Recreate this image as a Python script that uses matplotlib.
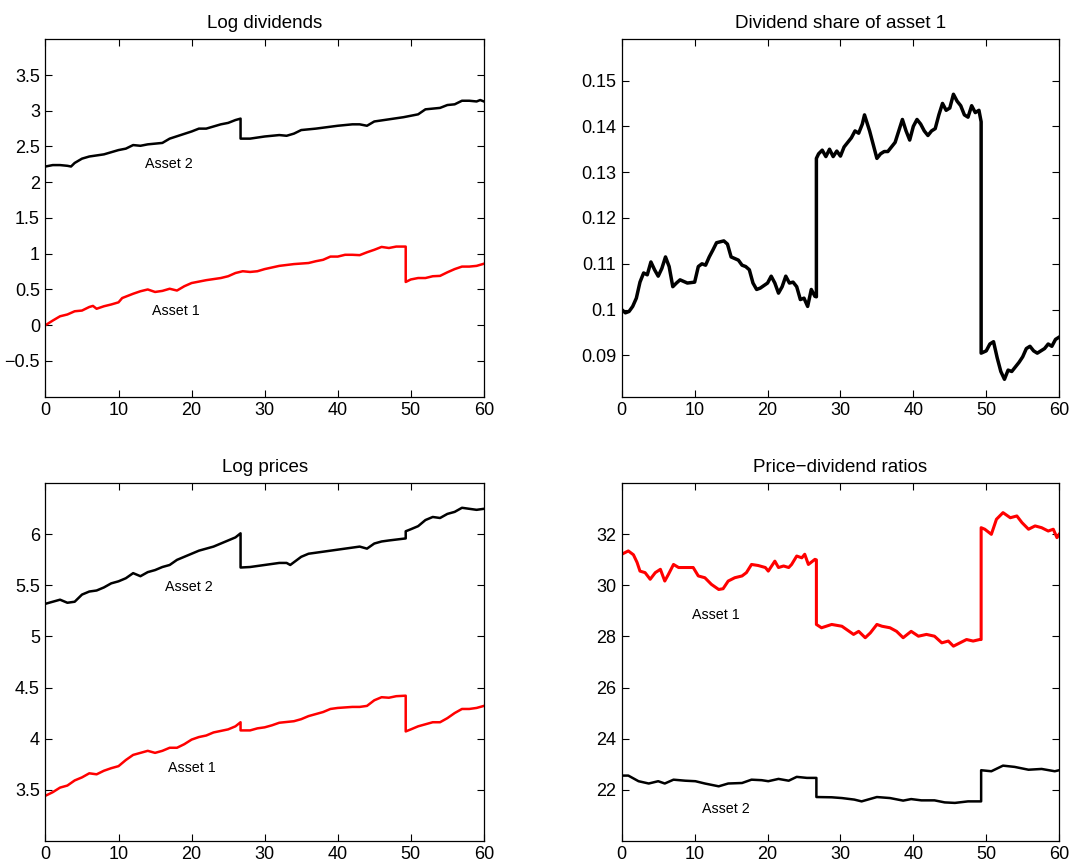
import numpy as np
import matplotlib
matplotlib.use('Agg')
import matplotlib.pyplot as plt
from matplotlib.ticker import FuncFormatter

plt.rcParams['font.family'] = ['Liberation Sans', 'DejaVu Sans']

# log dividends
div_t2 = [0, 1, 2, 3, 3.5, 4, 5, 6, 8, 10, 11, 12, 13, 14, 16, 17, 20, 21, 22, 24,
          25, 26, 26.7, 26.7, 28, 30, 32, 33, 34, 35, 37, 40, 42, 43, 44, 45, 47, 49, 50, 51,
          52, 54, 55, 56, 57, 58, 59, 59.5, 60]
div_a2 = [2.22, 2.24, 2.24, 2.23, 2.22, 2.27, 2.33, 2.36, 2.39, 2.45, 2.47, 2.52, 2.51, 2.53, 2.55, 2.61, 2.71, 2.75, 2.75, 2.81,
          2.83, 2.87, 2.89, 2.61, 2.61, 2.64, 2.66, 2.65, 2.68, 2.73, 2.75, 2.79, 2.81, 2.81, 2.79, 2.85, 2.88, 2.91, 2.93, 2.95,
          3.02, 3.04, 3.08, 3.09, 3.14, 3.14, 3.13, 3.15, 3.13]
div_t1 = [0, 1, 2, 3, 4, 5, 6, 6.5, 7, 8, 9, 10, 10.5, 12, 13, 14, 15, 16, 17, 18,
          19, 20, 22, 24, 25, 26, 27, 28, 29, 30, 32, 34, 36, 37, 38, 39, 40, 41, 42, 43,
          44, 45, 46, 47, 48, 49.3, 49.3, 50, 51, 52, 53, 54, 55, 56, 57, 58, 59, 60]
div_a1 = [0.0, 0.065, 0.125, 0.15, 0.195, 0.205, 0.255, 0.27, 0.23, 0.265, 0.29, 0.32, 0.38, 0.44, 0.475, 0.5, 0.465, 0.48, 0.51, 0.485,
          0.545, 0.59, 0.63, 0.66, 0.685, 0.73, 0.755, 0.745, 0.755, 0.785, 0.83, 0.855, 0.87, 0.895, 0.915, 0.96, 0.96, 0.985, 0.985, 0.98,
          1.02, 1.055, 1.095, 1.08, 1.1, 1.1, 0.605, 0.64, 0.66, 0.66, 0.685, 0.69, 0.74, 0.785, 0.82, 0.82, 0.83, 0.86]

# dividend share of asset 1
sh_t = [0, 0.5, 1, 1.5, 2, 2.5, 3, 3.5, 4, 4.5, 5, 5.5, 6, 6.5, 7, 7.5, 8, 9, 10, 10.5,
        11, 11.5, 12, 12.5, 13, 14, 14.5, 15, 16, 16.5, 17, 17.5, 18, 18.5, 19, 20, 20.5, 21, 21.5, 22,
        22.5, 23, 23.5, 24, 24.5, 25, 25.5, 26, 26.5, 26.7, 26.7, 27, 27.5, 28, 28.5, 29, 29.5, 30, 30.5, 31,
        31.5, 32, 32.5, 33, 33.3, 34, 34.5, 35, 35.5, 36, 36.5, 37, 37.5, 38, 38.5, 39, 39.5, 40, 40.5, 41,
        41.5, 42, 42.5, 43, 43.5, 44, 44.5, 45, 45.5, 46, 46.5, 47, 47.5, 48, 48.5, 49, 49.3, 49.3, 50, 50.5,
        51, 51.5, 52, 52.5, 53, 53.5, 54, 54.5, 55, 55.5, 56, 56.5, 57, 57.5, 58, 58.5, 59, 59.5, 60]
sh_val = [0.100, 0.0993, 0.0996, 0.1007, 0.1025, 0.106, 0.108, 0.1076, 0.1104, 0.1087, 0.1073, 0.109, 0.1115, 0.1094, 0.105, 0.1058, 0.1065, 0.1058, 0.106, 0.1094,
          0.110, 0.1097, 0.1115, 0.113, 0.1146, 0.115, 0.1143, 0.1115, 0.1108, 0.1097, 0.1094, 0.1087, 0.1058, 0.1044, 0.1047, 0.1058, 0.1073, 0.1058, 0.1036, 0.105,
          0.1073, 0.1058, 0.106, 0.105, 0.1022, 0.1025, 0.1007, 0.1044, 0.1029, 0.1028, 0.133, 0.134, 0.1348, 0.1334, 0.135, 0.1334, 0.1346, 0.1335, 0.1355, 0.1365,
          0.1375, 0.139, 0.1385, 0.1405, 0.1425, 0.139, 0.136, 0.133, 0.134, 0.1345, 0.1345, 0.1355, 0.1365, 0.139, 0.1415, 0.139, 0.137, 0.140, 0.1415, 0.1405,
          0.139, 0.138, 0.139, 0.1395, 0.1425, 0.145, 0.1435, 0.144, 0.147, 0.1455, 0.1445, 0.1425, 0.142, 0.1445, 0.143, 0.1435, 0.141, 0.0905, 0.091, 0.0925,
          0.093, 0.0895, 0.0865, 0.0848, 0.0868, 0.0865, 0.0875, 0.0885, 0.0897, 0.0915, 0.092, 0.091, 0.0905, 0.091, 0.0915, 0.0925, 0.092, 0.0935, 0.094]

# log prices
px_t2 = list(range(27)) + [26.7, 26.7, 28, 30, 32, 33, 33.5, 35, 36, 38, 40, 42,
                           43, 44, 45, 46, 47, 49.3, 49.3, 50, 51, 52, 53, 54, 55, 56, 57, 58, 59, 60]
px_a2 = [5.32, 5.34, 5.36, 5.33, 5.34, 5.41, 5.44, 5.45, 5.48, 5.52, 5.54, 5.57, 5.62, 5.59, 5.63, 5.65, 5.68, 5.70, 5.75, 5.78,
         5.81, 5.84, 5.86, 5.88, 5.91, 5.94, 5.97, 6.01, 5.675, 5.68, 5.70, 5.72, 5.72, 5.70, 5.78, 5.81, 5.83, 5.85, 5.87,
         5.88, 5.86, 5.91, 5.93, 5.94, 5.96, 6.03, 6.05, 6.08, 6.14, 6.17, 6.16, 6.20, 6.22, 6.26, 6.25, 6.24, 6.25]
px_t1 = list(range(27)) + [26.7, 26.7, 28, 29, 30, 31, 32, 34, 35, 36, 37, 38, 39, 40, 42, 43, 44, 45, 46, 47, 48,
                           49.3, 49.3, 50, 51, 52, 53, 54, 55, 56, 57, 58, 59, 60]
px_a1 = [3.44, 3.475, 3.52, 3.54, 3.59, 3.62, 3.66, 3.65, 3.685, 3.71, 3.73, 3.79, 3.84, 3.86, 3.88, 3.86, 3.88, 3.91, 3.91, 3.945,
         3.99, 4.015, 4.03, 4.06, 4.075, 4.09, 4.12, 4.16, 4.08, 4.08, 4.10, 4.11, 4.13, 4.155, 4.17, 4.19, 4.22, 4.24, 4.26, 4.29,
         4.30, 4.31, 4.31, 4.32, 4.375, 4.405, 4.40, 4.415, 4.42, 4.07, 4.09, 4.12, 4.14, 4.16, 4.16, 4.20, 4.25, 4.29, 4.29, 4.30, 4.32]

# price-dividend ratios
pd_t1 = [0, 0.9, 1.6, 2.1, 2.5, 3.2, 3.9, 4.6, 5.3, 5.9, 6.4, 7.1, 7.8, 8.7, 9.8, 10.5, 11.4, 12.3, 13.3, 13.9,
         14.6, 15.5, 16.5, 17.1, 17.8, 18.7, 19.7, 20.1, 21, 21.5, 22.2, 22.9, 23.3, 24, 24.7, 25.1, 25.6, 26.5, 26.7, 26.7,
         27.4, 28.8, 30.2, 31.8, 32.5, 33.4, 34.1, 35, 35.7, 36.8, 37.7, 38.6, 39.7, 40.7, 41.8, 42.9, 43.9, 44.8, 45.5, 46.4,
         47.3, 48.2, 49.1, 49.3, 49.3, 49.8, 50.7, 51.4, 52.3, 53.3, 54.2, 54.9, 55.8, 56.7, 57.6, 58.5, 59.2, 59.7, 60]
pd_a1 = [31.22, 31.35, 31.2, 30.9, 30.56, 30.5, 30.24, 30.5, 30.63, 30.17, 30.43, 30.82, 30.7, 30.7, 30.7, 30.37, 30.3, 30.04, 29.84, 29.87,
         30.17, 30.3, 30.37, 30.5, 30.82, 30.78, 30.7, 30.56, 30.95, 30.7, 30.76, 30.7, 30.82, 31.15, 31.08, 31.22, 30.82, 31.02, 31.0, 28.47,
         28.34, 28.47, 28.4, 28.08, 28.2, 27.95, 28.14, 28.47, 28.4, 28.34, 28.2, 27.95, 28.2, 28.01, 28.08, 28.01, 27.75, 27.82, 27.62, 27.75,
         27.88, 27.82, 27.88, 27.88, 32.26, 32.2, 32.0, 32.59, 32.85, 32.65, 32.72, 32.46, 32.2, 32.33, 32.26, 32.13, 32.2, 31.87, 32.0]
pd_t2 = [0, 0.9, 2.3, 3.7, 5, 5.9, 7.1, 8.7, 10.1, 11.4, 13.3, 14.6, 16.5, 17.8, 19.2, 20.1, 21.5, 22.9, 24, 25.4,
         26.7, 26.7, 28.8, 30.2, 31.9, 32.9, 35, 36.8, 38.6, 39.7, 41.1, 42.9, 44.3, 45.7, 47.5, 49.3, 49.3, 50.7, 52.3, 53.9,
         55.8, 57.6, 59.4, 60]
pd_a2 = [22.55, 22.55, 22.33, 22.24, 22.33, 22.24, 22.39, 22.35, 22.33, 22.24, 22.13, 22.24, 22.26, 22.39, 22.37, 22.33, 22.42, 22.35, 22.5, 22.46,
         22.46, 21.71, 21.7, 21.67, 21.61, 21.54, 21.71, 21.67, 21.57, 21.63, 21.58, 21.58, 21.5, 21.48, 21.54, 21.54, 22.76, 22.72, 22.94, 22.89,
         22.78, 22.81, 22.72, 22.76]


def fmt(v, pos):
    return ('%g' % v).replace('-', '\u2212')


def style(ax, title, yticks, ylim):
    ax.set_xlim(0, 60)
    ax.set_ylim(*ylim)
    ax.set_xticks(np.arange(0, 61, 10))
    ax.set_yticks(yticks)
    ax.xaxis.set_major_formatter(FuncFormatter(fmt))
    ax.yaxis.set_major_formatter(FuncFormatter(fmt))
    ax.tick_params(direction='in', top=True, right=True, length=5, width=0.8,
                   labelsize=13, pad=4)
    for s in ax.spines.values():
        s.set_linewidth(0.9)
    ax.set_title(title, fontsize=13.5, pad=8)


fig = plt.figure(figsize=(10.72, 8.65), dpi=100)
ax1 = fig.add_axes([0.0424, 0.5414, 0.409, 0.4132])
ax2 = fig.add_axes([0.580, 0.5414, 0.408, 0.4132])
ax3 = fig.add_axes([0.0424, 0.0281, 0.409, 0.4132])
ax4 = fig.add_axes([0.580, 0.0281, 0.408, 0.4132])

ax1.plot(div_t2, div_a2, color='k', lw=1.8)
ax1.plot(div_t1, div_a1, color='r', lw=1.8)
ax1.text(13.6, 2.26, 'Asset 2', fontsize=10.3, va='center')
ax1.text(14.6, 0.2, 'Asset 1', fontsize=10.3, va='center')
style(ax1, 'Log dividends', np.arange(-0.5, 3.51, 0.5), (-1, 4))

ax2.plot(sh_t, sh_val, color='k', lw=2.5)
style(ax2, 'Dividend share of asset 1', np.arange(0.09, 0.1501, 0.01), (0.081, 0.159))

ax3.plot(px_t2, px_a2, color='k', lw=1.8)
ax3.plot(px_t1, px_a1, color='r', lw=1.8)
ax3.text(16.4, 5.48, 'Asset 2', fontsize=10.3, va='center')
ax3.text(16.8, 3.71, 'Asset 1', fontsize=10.3, va='center')
style(ax3, 'Log prices', np.arange(3.5, 6.01, 0.5), (3, 6.5))

ax4.plot(pd_t1, pd_a1, color='r', lw=2.2)
ax4.plot(pd_t2, pd_a2, color='k', lw=1.8)
ax4.text(9.6, 28.84, 'Asset 1', fontsize=10.3, va='center')
ax4.text(11.0, 21.25, 'Asset 2', fontsize=10.3, va='center')
style(ax4, 'Price\u2212dividend ratios', np.arange(22, 32.1, 2), (20, 34))

fig.savefig('out.png', dpi=100)
